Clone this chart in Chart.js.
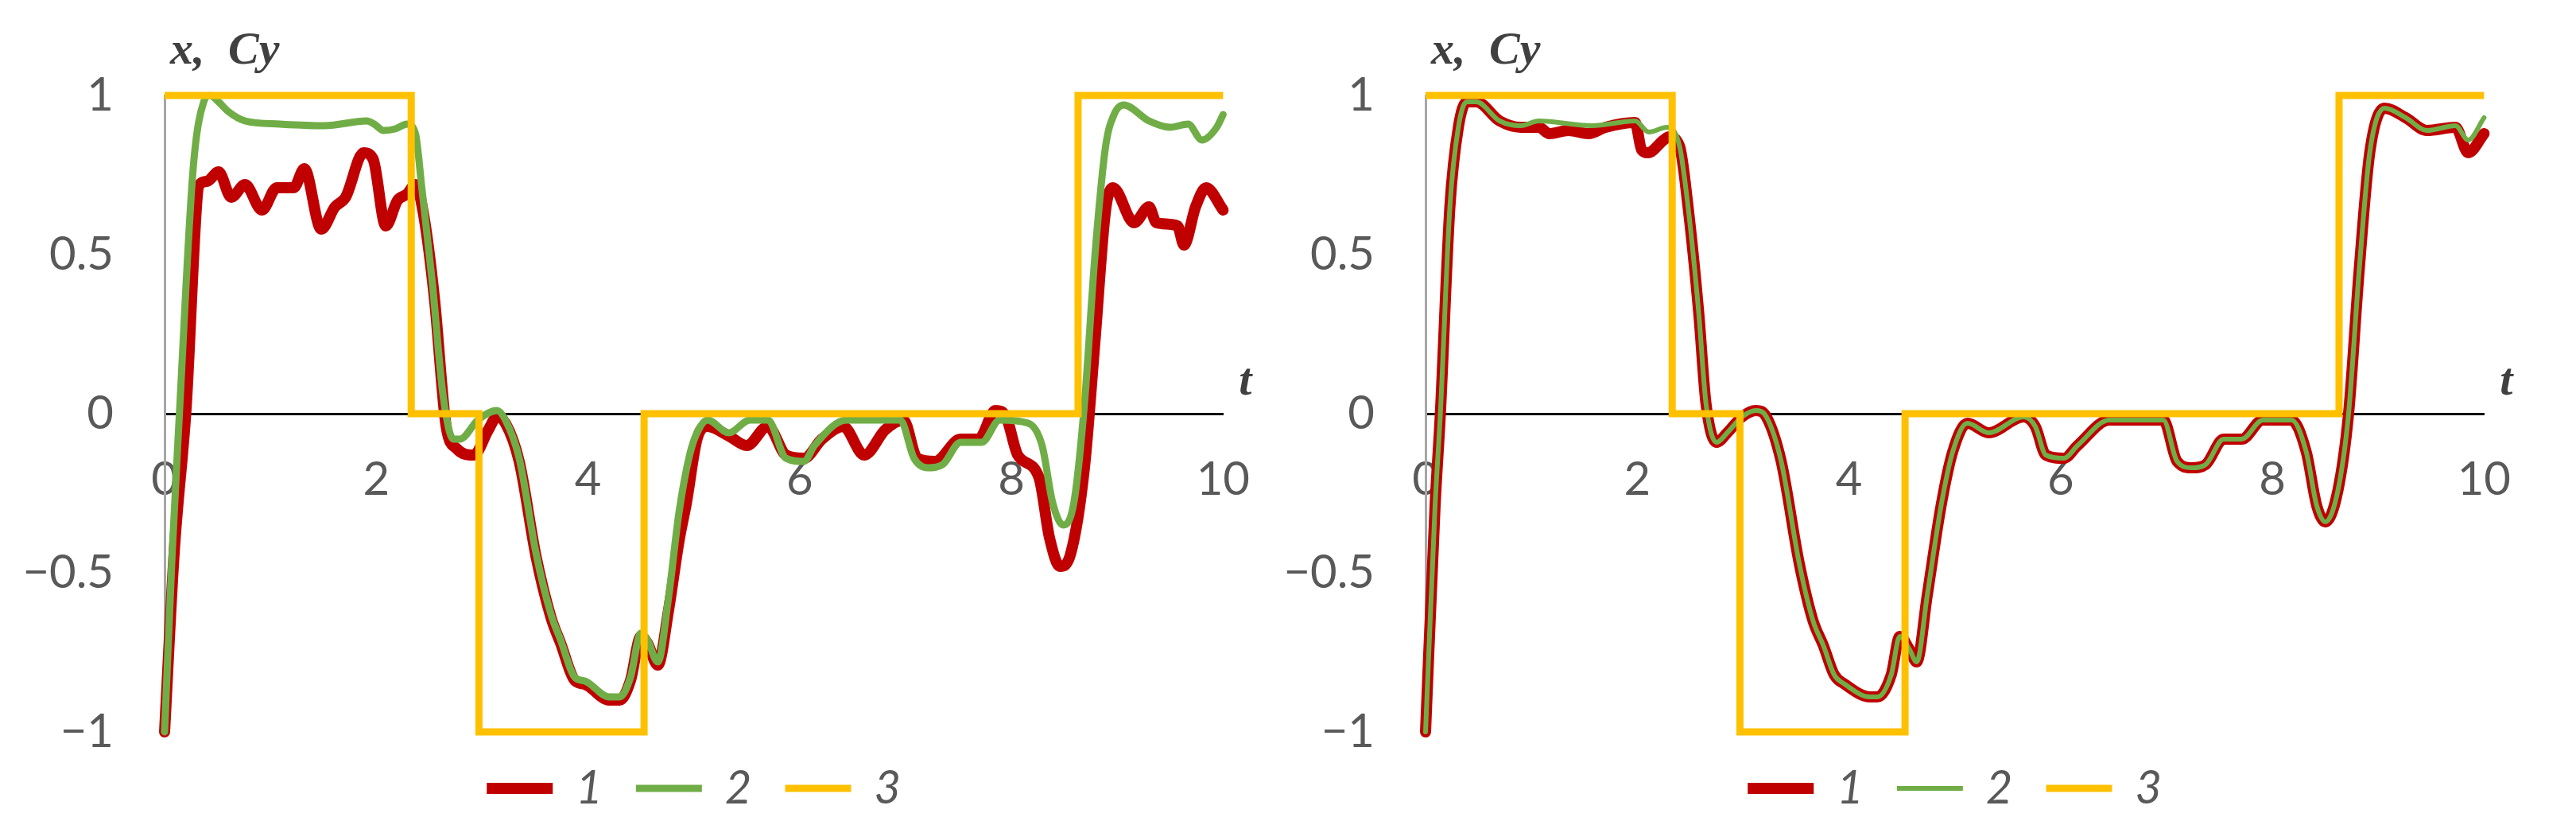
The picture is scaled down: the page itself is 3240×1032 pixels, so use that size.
<!DOCTYPE html>
<html>
<head>
<meta charset="utf-8">
<script src="https://cdn.jsdelivr.net/npm/chart.js@4.4.1/dist/chart.umd.min.js"></script>
<style>
    html, body { margin: 0; padding: 0; background: #ffffff; overflow: hidden; }
    .panel { position: absolute; top: 0; width: 1620px; height: 1032px; }
    #panel-left { left: 0; }
    #panel-right { left: 1586px; }
</style>
</head>
<body>
<div class="panel" id="panel-left"><canvas id="chartLeft" width="1620" height="1032"></canvas></div>
<div class="panel" id="panel-right"><canvas id="chartRight" width="1620" height="1032"></canvas></div>
<script>
// Axis ticks
const tTicks = [0, 2, 4, 6, 8, 10];
const yTicks = [-1, -0.5, 0, 0.5, 1];

// Left panel, curve 1 (x)
const tRedLeft = [0, 0.09, 0.2, 0.33, 0.4, 0.51, 0.63, 0.76, 0.92, 1.06, 1.22, 1.32, 1.48, 1.61, 1.71, 1.88, 1.97, 2.09, 2.2, 2.29, 2.37, 2.45, 2.55, 2.66, 2.76, 2.92, 3.06, 3.14, 3.22, 3.35, 3.51, 3.65, 3.74, 3.88, 3.97, 4.2, 4.3, 4.4, 4.5, 4.56, 4.66, 4.76, 4.86, 4.93, 5.03, 5.13, 5.33, 5.5, 5.7, 5.87, 6.04, 6.21, 6.41, 6.61, 6.81, 6.98, 7.11, 7.28, 7.52, 7.69, 7.85, 7.95, 8.06, 8.26, 8.36, 8.46, 8.56, 8.69, 8.79, 8.89, 8.96, 9.16, 9.3, 9.37, 9.57, 9.63, 9.74, 9.84, 10];
const redLeft = [-1, -0.44, 0, 0.72, 0.73, 0.76, 0.68, 0.72, 0.64, 0.71, 0.71, 0.77, 0.58, 0.65, 0.68, 0.82, 0.8, 0.59, 0.67, 0.69, 0.72, 0.62, 0.36, -0.04, -0.11, -0.13, -0.05, -0.01, -0.03, -0.15, -0.45, -0.64, -0.72, -0.84, -0.85, -0.9, -0.9, -0.84, -0.7, -0.72, -0.79, -0.62, -0.4, -0.28, -0.08, -0.04, -0.07, -0.1, -0.04, -0.13, -0.14, -0.08, -0.04, -0.13, -0.05, -0.02, -0.14, -0.15, -0.08, -0.08, 0.01, -0.01, -0.13, -0.2, -0.39, -0.48, -0.44, -0.17, 0.23, 0.64, 0.71, 0.6, 0.65, 0.6, 0.59, 0.53, 0.65, 0.71, 0.64];

// Left panel, curve 2 (Cy)
const tGreenLeft = [0, 0.07, 0.14, 0.27, 0.37, 0.43, 0.51, 0.6, 0.76, 1.09, 1.51, 1.91, 1.98, 2.07, 2.18, 2.29, 2.37, 2.43, 2.53, 2.63, 2.73, 2.79, 2.96, 3.14, 3.22, 3.35, 3.51, 3.65, 3.74, 3.88, 3.97, 4.2, 4.3, 4.4, 4.5, 4.56, 4.66, 4.76, 4.86, 4.96, 5.03, 5.13, 5.33, 5.53, 5.7, 5.87, 6.04, 6.14, 6.44, 6.95, 7.08, 7.21, 7.35, 7.52, 7.72, 7.89, 8.16, 8.29, 8.39, 8.49, 8.59, 8.69, 8.79, 8.89, 8.97, 9.06, 9.3, 9.5, 9.67, 9.8, 9.94, 10];
const greenLeft = [-1, -0.45, 0, 0.77, 0.98, 1.0, 0.98, 0.95, 0.92, 0.91, 0.905, 0.92, 0.91, 0.89, 0.895, 0.91, 0.88, 0.71, 0.41, 0.06, -0.08, -0.08, -0.02, 0.01, -0.02, -0.14, -0.44, -0.63, -0.71, -0.83, -0.84, -0.89, -0.89, -0.83, -0.69, -0.71, -0.78, -0.58, -0.31, -0.13, -0.06, -0.02, -0.06, -0.02, -0.02, -0.14, -0.15, -0.1, -0.02, -0.02, -0.14, -0.17, -0.16, -0.09, -0.09, -0.02, -0.03, -0.1, -0.28, -0.35, -0.28, 0.03, 0.5, 0.84, 0.94, 0.97, 0.92, 0.9, 0.91, 0.86, 0.9, 0.94];

// Right panel, curve 1 (x)
const tRedRight = [0, 0.09, 0.14, 0.23, 0.31, 0.39, 0.48, 0.7, 0.9, 1.07, 1.17, 1.35, 1.54, 1.7, 1.98, 2.04, 2.1, 2.25, 2.3, 2.4, 2.48, 2.58, 2.65, 2.75, 2.85, 2.99, 3.12, 3.22, 3.36, 3.53, 3.66, 3.76, 3.86, 3.96, 4.2, 4.27, 4.4, 4.48, 4.57, 4.64, 4.74, 4.87, 4.98, 5.12, 5.32, 5.65, 5.76, 5.86, 6.03, 6.16, 6.46, 6.97, 7.1, 7.24, 7.37, 7.54, 7.71, 7.91, 8.18, 8.32, 8.42, 8.5, 8.62, 8.72, 8.82, 8.92, 9.06, 9.26, 9.46, 9.73, 9.85, 10];
const redRight = [-1, -0.29, 0, 0.65, 0.9, 0.98, 0.98, 0.92, 0.9, 0.9, 0.88, 0.89, 0.88, 0.9, 0.915, 0.83, 0.82, 0.86, 0.87, 0.84, 0.65, 0.32, 0.03, -0.09, -0.06, -0.01, 0.01, -0.01, -0.15, -0.47, -0.65, -0.73, -0.82, -0.85, -0.89, -0.89, -0.82, -0.7, -0.74, -0.78, -0.57, -0.29, -0.12, -0.03, -0.06, -0.01, -0.04, -0.13, -0.14, -0.1, -0.02, -0.02, -0.15, -0.17, -0.16, -0.08, -0.08, -0.02, -0.02, -0.12, -0.29, -0.34, -0.24, 0, 0.45, 0.82, 0.96, 0.93, 0.89, 0.9, 0.82, 0.88];

// Right panel, curve 2 (Cy)
const tGreenRight = [0, 0.09, 0.14, 0.23, 0.31, 0.39, 0.48, 0.7, 0.9, 1.07, 1.57, 1.98, 2.11, 2.28, 2.4, 2.48, 2.58, 2.65, 2.75, 2.85, 2.99, 3.12, 3.22, 3.36, 3.53, 3.66, 3.76, 3.86, 3.96, 4.2, 4.27, 4.4, 4.48, 4.57, 4.64, 4.74, 4.87, 4.98, 5.12, 5.32, 5.65, 5.76, 5.86, 6.03, 6.16, 6.46, 6.97, 7.1, 7.24, 7.37, 7.54, 7.71, 7.91, 8.18, 8.32, 8.42, 8.5, 8.62, 8.72, 8.82, 8.92, 9.06, 9.26, 9.46, 9.73, 9.85, 10];
const greenRight = [-1, -0.29, 0, 0.65, 0.9, 0.98, 0.98, 0.92, 0.905, 0.92, 0.905, 0.92, 0.885, 0.9, 0.84, 0.65, 0.32, 0.03, -0.09, -0.06, -0.01, 0.01, -0.01, -0.15, -0.47, -0.65, -0.73, -0.82, -0.85, -0.89, -0.89, -0.82, -0.7, -0.74, -0.78, -0.57, -0.29, -0.12, -0.03, -0.06, -0.01, -0.04, -0.13, -0.14, -0.1, -0.02, -0.02, -0.15, -0.17, -0.16, -0.08, -0.08, -0.02, -0.02, -0.12, -0.29, -0.34, -0.24, 0, 0.45, 0.82, 0.96, 0.93, 0.89, 0.905, 0.86, 0.93];

// Curve 3 (reference step signal), same on both panels
const tStep = [0, 2.33, 2.97, 4.53, 8.63, 10];
const stepValues = [1, 0, -1, 0, 1, 1];

const RED = '#C00000';
const GREEN = '#70AD47';
const YELLOW = '#FFC000';
const TICK_COLOR = '#595959';

document.addEventListener('DOMContentLoaded', () => {
    renderPanel('chartLeft', { t: tRedLeft, y: redLeft, width: 14 }, { t: tGreenLeft, y: greenLeft, width: 9 });
    renderPanel('chartRight', { t: tRedRight, y: redRight, width: 14 }, { t: tGreenRight, y: greenRight, width: 6 });
});

// Helper: pair time and value arrays into points
function toPoints(t, y) {
    return t.map((value, i) => ({ x: value, y: y[i] }));
}

// Helper: real minus sign on negative ticks
function formatTick(value) {
    return String(value).replace('-', '\u2212');
}

// Axis names drawn beside the axes
const axisNames = {
    id: 'axisNames',
    afterDraw(chart) {
        const { ctx, chartArea, scales } = chart;
        const top = chartArea.top - 40;
        ctx.save();
        ctx.fillStyle = '#404040';
        ctx.font = 'italic bold 58px "Liberation Serif"';
        ctx.textAlign = 'left';
        ctx.textBaseline = 'alphabetic';
        ctx.fillText('x,', chartArea.left + 7, top);
        ctx.fillText('Cy', chartArea.left + 80, top);
        ctx.fillText('t', chartArea.right + 20, scales.y.getPixelForValue(0) - 24);
        ctx.restore();
    },
};

// Render one panel
function renderPanel(canvasId, red, green) {
    const ctx = document.getElementById(canvasId).getContext('2d');
    const lineStyle = {
        pointRadius: 0,
        fill: false,
        clip: false,
        borderCapStyle: 'round',
        borderJoinStyle: 'round',
    };

    new Chart(ctx, {
        type: 'line',
        data: {
            datasets: [
                {
                    ...lineStyle,
                    label: '1',
                    data: toPoints(red.t, red.y),
                    borderColor: RED,
                    borderWidth: red.width,
                    cubicInterpolationMode: 'monotone',
                    order: 3,
                },
                {
                    ...lineStyle,
                    label: '2',
                    data: toPoints(green.t, green.y),
                    borderColor: GREEN,
                    borderWidth: green.width,
                    cubicInterpolationMode: 'monotone',
                    order: 2,
                },
                {
                    ...lineStyle,
                    label: '3',
                    data: toPoints(tStep, stepValues),
                    borderColor: YELLOW,
                    borderWidth: 9,
                    borderJoinStyle: 'miter',
                    borderCapStyle: 'butt',
                    stepped: 'before',
                    order: 1,
                },
            ],
        },
        options: {
            responsive: false,
            devicePixelRatio: 1,
            animation: false,
            events: [],
            layout: { padding: { top: 120, right: 46, bottom: 2, left: 0 } },
            scales: {
                x: {
                    type: 'linear',
                    position: { y: 0 },
                    min: tTicks[0],
                    max: tTicks[tTicks.length - 1],
                    afterBuildTicks: (scale) => { scale.ticks = tTicks.map((v) => ({ value: v })); },
                    grid: { display: false, drawTicks: false },
                    border: { display: true, color: '#000000', width: 3 },
                    ticks: {
                        color: TICK_COLOR,
                        padding: 48,
                        maxRotation: 0,
                        font: { family: 'Lato', size: 58 },
                        callback: formatTick,
                    },
                },
                y: {
                    type: 'linear',
                    position: 'left',
                    min: yTicks[0],
                    max: yTicks[yTicks.length - 1],
                    afterBuildTicks: (scale) => { scale.ticks = yTicks.map((v) => ({ value: v })); },
                    afterFit: (scale) => { scale.width = 207; },
                    grid: { display: false, drawTicks: false },
                    border: { display: true, color: '#A6A6A6', width: 3 },
                    ticks: {
                        color: TICK_COLOR,
                        padding: 64,
                        font: { family: 'Lato', size: 58 },
                        callback: formatTick,
                    },
                },
            },
            plugins: {
                legend: {
                    position: 'bottom',
                    fullSize: false,
                    labels: {
                        usePointStyle: true,
                        pointStyle: 'line',
                        pointStyleWidth: 83,
                        padding: 42,
                        color: TICK_COLOR,
                        font: { family: 'Lato', size: 58, style: 'italic' },
                        sort: (a, b) => a.datasetIndex - b.datasetIndex,
                    },
                },
                tooltip: { enabled: false },
            },
        },
        plugins: [axisNames],
    });
}
</script>
</body>
</html>
